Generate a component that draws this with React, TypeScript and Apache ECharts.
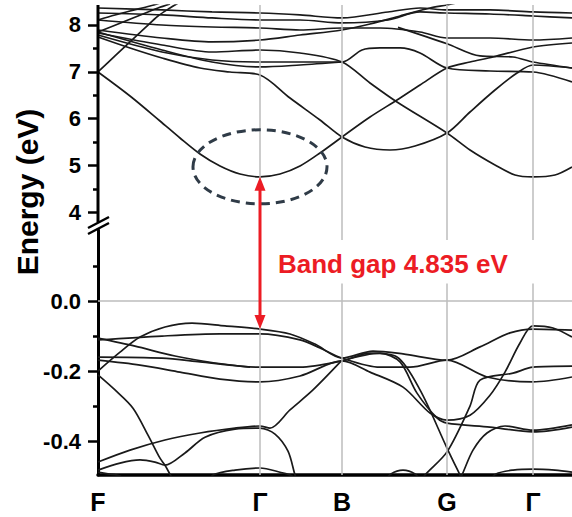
import React, { useEffect, useRef } from 'react';
import * as echarts from 'echarts';

// k-path (horizontal distance along the Brillouin-zone path)
const kTicks = [0, 162, 244, 349, 435];
const kLabels = ['F', 'Γ', 'B', 'G', 'Γ'];
const kMax = 474;

// energy axes (eV)
const upperRange = [3.406, 8.427];
const lowerRange = [-0.497, 0.203];
const upperTicks = [4, 5, 6, 7, 8];
const upperMinor = [4.5, 5.5, 6.5, 7.5];
const lowerTicks = [-0.4, -0.2, 0];
const lowerMinor = [-0.3, -0.1, 0.1];

// band-gap annotation
const cbm = [162, 4.755];
const vbm = [162, -0.08];
const gapText = 'Band gap 4.835 eV';
const highlightCenter = [162, 4.97];

// conduction bands (upper panel) [k, E]
const cb1 = [[0, 6.996], [32, 6.483], [62, 5.949], [82, 5.585], [102, 5.244], [122, 4.987], [142, 4.816], [162, 4.755], [182, 4.816], [202, 4.987], [222, 5.265], [244, 5.607]];
const cb2 = [[244, 5.607], [272, 6.034], [299, 6.397], [322, 6.718], [349, 7.081], [372, 7.209], [395, 7.316], [435, 7.53], [474, 7.615]];
const cb3 = [[0, 7.744], [32, 7.509], [64, 7.295], [102, 7.081], [132, 6.996], [162, 6.932], [192, 6.44], [222, 5.97], [244, 5.607], [267, 5.393], [292, 5.329], [317, 5.415], [349, 5.692], [372, 6.141], [397, 6.611], [419, 6.974], [435, 7.145], [474, 7.081]];
const cb4 = [[0, 7.829], [64, 7.573], [114, 7.423], [162, 7.466], [202, 7.402], [244, 7.209], [272, 6.761], [299, 6.355], [349, 5.692], [372, 5.329], [397, 5.009], [417, 4.795], [435, 4.755], [457, 4.795], [474, 4.966]];
const cb5 = [[0, 7.786], [64, 7.423], [114, 7.252], [162, 7.209], [202, 7.209], [244, 7.209], [264, 7.466], [282, 7.509], [302, 7.509], [322, 7.402], [349, 7.081], [392, 7.017], [435, 6.996], [474, 6.782]];
const cb6 = [[0, 6.996], [17, 7.338], [32, 7.637], [47, 7.936], [60, 8.192], [72, 8.363], [82, 8.491]];
const cb7 = [[0, 7.893], [64, 7.722], [114, 7.637], [162, 7.679], [202, 7.786], [244, 7.893], [272, 8.021], [302, 8.192], [332, 8.363], [349, 8.427], [360, 8.48]];
const cb8 = [[0, 8.107], [64, 8.0], [114, 7.957], [162, 7.936], [202, 7.893], [244, 7.936], [282, 7.936], [322, 7.85], [349, 7.722], [392, 7.722], [435, 7.679], [474, 7.722]];
const cb9 = [[0, 8.256], [64, 8.214], [114, 8.15], [162, 8.107], [202, 8.107], [244, 8.043], [290, 8.107], [322, 8.278], [349, 8.256], [392, 8.235], [435, 8.192], [474, 8.15]];
const cb10 = [[0, 8.363], [64, 8.321], [114, 8.278], [162, 8.256], [202, 8.214], [244, 8.15], [290, 8.278], [322, 8.363], [349, 8.321], [392, 8.321], [435, 8.278], [474, 8.256]];
const cb11 = [[0, 7.85], [30, 8.107], [50, 8.278], [60, 8.363], [72, 8.45]];
const cb12 = [[0, 7.85], [64, 7.466], [114, 7.209], [162, 7.103], [202, 7.145], [244, 7.209]];
const cb13 = [[300, 7.95], [349, 7.6], [382, 7.338], [415, 7.316], [435, 7.209], [474, 7.081]];
const cb14 = [[0, 8.107], [17, 8.214], [32, 8.299], [52, 8.406], [62, 8.47]];

// valence bands (lower panel) [k, E]
const vb1 = [[0, -0.2], [22, -0.146], [42, -0.103], [67, -0.074], [94, -0.063], [127, -0.071], [162, -0.08], [192, -0.094], [217, -0.123], [244, -0.163], [275, -0.143], [305, -0.151], [349, -0.169], [382, -0.131], [412, -0.091], [435, -0.08], [474, -0.083]];
const vb2 = [[0, -0.111], [64, -0.1], [122, -0.094], [162, -0.094], [202, -0.111], [222, -0.134], [244, -0.163], [282, -0.189], [312, -0.189], [349, -0.169], [389, -0.217], [435, -0.231], [474, -0.217]];
const vb3 = [[0, -0.16], [64, -0.163], [102, -0.174], [142, -0.186], [162, -0.189], [202, -0.189], [244, -0.171], [272, -0.149], [299, -0.16], [322, -0.254], [349, -0.42], [362, -0.497], [367, -0.526]];
const vb4 = [[0, -0.106], [37, -0.129], [77, -0.157], [117, -0.177], [152, -0.189]];
const vb5 = [[0, -0.169], [42, -0.183], [82, -0.203], [122, -0.223], [162, -0.231], [202, -0.214], [244, -0.171], [272, -0.203], [305, -0.246], [332, -0.32], [349, -0.34], [372, -0.326], [392, -0.269], [407, -0.203], [422, -0.12], [435, -0.071], [455, -0.077], [474, -0.103]];
const vb6 = [[0, -0.211], [17, -0.254], [35, -0.306], [50, -0.383], [62, -0.449], [67, -0.469], [74, -0.506]];
const vb7 = [[0, -0.46], [32, -0.426], [67, -0.397], [102, -0.377], [137, -0.363], [162, -0.357], [172, -0.363], [192, -0.311], [215, -0.254], [244, -0.169]];
const vb8 = [[0, -0.483], [22, -0.463], [42, -0.454], [57, -0.46], [67, -0.469], [87, -0.434], [107, -0.389], [137, -0.366], [162, -0.363], [177, -0.38], [190, -0.429], [197, -0.497], [200, -0.52]];
const vb9 = [[322, -0.52], [327, -0.497], [349, -0.431], [372, -0.3], [382, -0.226], [415, -0.206], [435, -0.189], [474, -0.186]];
const vb10 = [[360, -0.52], [364, -0.497], [375, -0.426], [389, -0.377], [407, -0.357], [435, -0.369], [474, -0.354]];
const vb11 = [[244, -0.171], [282, -0.149], [302, -0.174], [319, -0.263], [339, -0.334], [349, -0.349], [392, -0.36], [435, -0.374], [474, -0.36]];
const vb12 = [[110, -0.52], [115, -0.497], [137, -0.483], [162, -0.477], [182, -0.489], [194, -0.5], [198, -0.52]];
const vb13 = [[285, -0.52], [293, -0.494], [305, -0.483], [317, -0.494], [325, -0.52]];
const vb14 = [[390, -0.52], [398, -0.494], [415, -0.483], [435, -0.48], [457, -0.483], [474, -0.489]];
const vb15 = [[0, -0.489], [10, -0.494], [22, -0.5], [30, -0.52]];

const upperBands = [cb1, cb2, cb3, cb4, cb5, cb6, cb7, cb8, cb9, cb10, cb11, cb12, cb13, cb14];
const lowerBands = [vb1, vb2, vb3, vb4, vb5, vb6, vb7, vb8, vb9, vb10, vb11, vb12, vb13, vb14, vb15];

const FONT = '"Liberation Sans", Arial, Helvetica, sans-serif';

export default function App() {
  const ref = useRef<HTMLDivElement>(null);

  useEffect(() => {
    if (!ref.current) return;
    const chart = echarts.init(ref.current, null, { renderer: 'svg' });

    const gridLeft = 98;
    const upperTop = 5;
    const upperHeight = 235;
    const lowerTop = 230;
    const lowerHeight = 245;

    const bandLine = { color: '#1a1a1a', width: 1.7 };
    const mkBand = (data: number[][], xi: number, yi: number) => ({
      type: 'line',
      xAxisIndex: xi,
      yAxisIndex: yi,
      data,
      symbol: 'none',
      showSymbol: false,
      smooth: 0.3,
      lineStyle: bandLine,
      silent: true,
      z: 3,
    });
    const gray = { color: '#bdbdbd', width: 1.5, type: 'solid' };

    const series: any[] = [
      ...upperBands.map((b) => mkBand(b, 0, 0)),
      ...lowerBands.map((b) => mkBand(b, 1, 2)),
      {
        type: 'line', xAxisIndex: 0, yAxisIndex: 0, data: [], z: 1, silent: true,
        markLine: {
          symbol: 'none', silent: true, label: { show: false }, lineStyle: gray,
          data: kTicks.slice(1).map((k) => ({ xAxis: k })),
        },
      },
      {
        type: 'line', xAxisIndex: 1, yAxisIndex: 2, data: [], z: 1, silent: true,
        markLine: {
          symbol: 'none', silent: true, label: { show: false }, lineStyle: gray,
          data: [
            ...kTicks.slice(1).map((k) => [{ coord: [k, 0.05] }, { coord: [k, lowerRange[0]] }]),
            [{ coord: [0, 0] }, { coord: [kMax, 0] }],
          ],
        },
      },
    ];

    const labelStyle = { color: '#000', fontWeight: 'bold', fontSize: 22, fontFamily: FONT };
    const tickMajor = { show: true, inside: false, length: 10, lineStyle: { color: '#000', width: 2.5 } };
    const tickMinor = { show: true, inside: false, length: 5, lineStyle: { color: '#000', width: 2.5 } };

    chart.setOption({
      animation: false,
      backgroundColor: '#fff',
      grid: [
        { left: gridLeft, top: upperTop, width: kMax, height: upperHeight, containLabel: false },
        { left: gridLeft, top: lowerTop, width: kMax, height: lowerHeight, containLabel: false },
      ],
      xAxis: [
        { type: 'value', gridIndex: 0, min: 0, max: kMax, show: false },
        {
          type: 'value', gridIndex: 1, min: 0, max: kMax,
          axisLine: { show: true, onZero: false, lineStyle: { color: '#000', width: 3.5 } },
          axisTick: { show: false },
          splitLine: { show: false },
          axisLabel: {
            ...labelStyle, fontSize: 25, margin: 14,
            customValues: kTicks,
            formatter: (v: number) => kLabels[kTicks.indexOf(v)] ?? '',
          },
        },
      ],
      yAxis: [
        {
          type: 'value', gridIndex: 0, min: upperRange[0], max: upperRange[1], position: 'left',
          axisLine: { show: false },
          splitLine: { show: false },
          axisTick: { ...tickMajor, customValues: upperTicks },
          axisLabel: { ...labelStyle, margin: 17, customValues: upperTicks, formatter: (v: number) => String(v) },
        },
        {
          type: 'value', gridIndex: 0, min: upperRange[0], max: upperRange[1], position: 'left',
          axisLine: { show: false }, splitLine: { show: false },
          axisTick: { ...tickMinor, customValues: upperMinor },
          axisLabel: { show: false },
        },
        {
          type: 'value', gridIndex: 1, min: lowerRange[0], max: lowerRange[1], position: 'left',
          axisLine: { show: true, onZero: false, lineStyle: { color: '#000', width: 3 } },
          splitLine: { show: false },
          axisTick: { ...tickMajor, customValues: lowerTicks },
          axisLabel: { ...labelStyle, margin: 17, customValues: lowerTicks, formatter: (v: number) => v.toFixed(1) },
        },
        {
          type: 'value', gridIndex: 1, min: lowerRange[0], max: lowerRange[1], position: 'left',
          axisLine: { show: false }, splitLine: { show: false },
          axisTick: { ...tickMinor, customValues: lowerMinor },
          axisLabel: { show: false },
        },
      ],
      series,
    });

    const up = (pt: number[]) => chart.convertToPixel({ seriesIndex: 0 }, pt) as number[];
    const low = (pt: number[]) => chart.convertToPixel({ seriesIndex: upperBands.length }, pt) as number[];
    const top = up(cbm);
    const bot = low(vbm);
    const ctr = up(highlightCenter);
    const ax = top[0];
    const red = '#ec1c24';
    const head = 14;
    const hw = 5.5;
    const breakY = upperTop + 217;

    chart.setOption({
      graphic: [
        { type: 'line', z: 20, shape: { x1: gridLeft, y1: upperTop, x2: gridLeft, y2: breakY }, style: { stroke: '#000', lineWidth: 3 } },
        { type: 'line', z: 20, shape: { x1: gridLeft - 10, y1: breakY + 6, x2: gridLeft + 11, y2: breakY - 5 }, style: { stroke: '#000', lineWidth: 2.5 } },
        { type: 'line', z: 20, shape: { x1: gridLeft - 10, y1: breakY + 12, x2: gridLeft + 11, y2: breakY + 1 }, style: { stroke: '#000', lineWidth: 2.5 } },
        {
          type: 'ellipse', z: 20,
          shape: { cx: ctr[0], cy: ctr[1], rx: 67, ry: 37 },
          style: { fill: 'none', stroke: '#2f3b47', lineWidth: 3, lineDash: [9, 6] },
        },
        { type: 'line', z: 21, shape: { x1: ax, y1: top[1] + head - 2, x2: ax, y2: bot[1] - head + 2 }, style: { stroke: red, lineWidth: 3 } },
        { type: 'polygon', z: 21, shape: { points: [[ax, top[1]], [ax - hw, top[1] + head], [ax + hw, top[1] + head]] }, style: { fill: red } },
        { type: 'polygon', z: 21, shape: { points: [[ax, bot[1]], [ax - hw, bot[1] - head], [ax + hw, bot[1] - head]] }, style: { fill: red } },
        {
          type: 'text', z: 21, x: ax + 18, y: (top[1] + bot[1]) / 2 + 11,
          style: { text: gapText, fill: red, fontWeight: 'bold', fontSize: 26, fontFamily: FONT, align: 'left', verticalAlign: 'middle' },
        },
        {
          type: 'text', z: 21, x: 27, y: 192, rotation: Math.PI / 2,
          style: { text: 'Energy (eV)', fill: '#000', fontWeight: 'bold', fontSize: 30, fontFamily: FONT, align: 'center', verticalAlign: 'middle' },
        },
      ],
    });

    return () => chart.dispose();
  }, []);

  return <div ref={ref} style={{ position: 'fixed', left: 0, top: 0, width: 572, height: 517 }} />;
}
